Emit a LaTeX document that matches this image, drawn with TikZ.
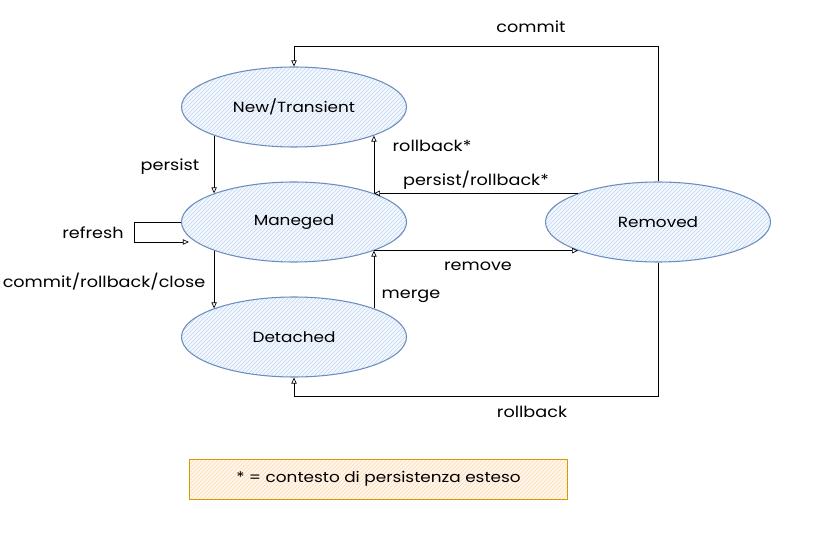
\documentclass[tikz,border=0pt]{standalone}
\usepackage{fontspec}
\setmainfont{Poppins}[FakeStretch=1.15]
\usetikzlibrary{shapes.geometric,arrows.meta,patterns}
\definecolor{bstroke}{HTML}{6C8EBF}
\definecolor{bfill}{HTML}{DAE8FC}
\definecolor{bhatch}{HTML}{C3D5F1}
\definecolor{ostroke}{HTML}{D79B00}
\definecolor{ofill}{HTML}{FFF6EC}
\definecolor{ohatch}{HTML}{FFD9B0}
\tikzset{
  state/.style={ellipse, draw=bstroke, line width=0.8pt, minimum width=168.75pt, minimum height=60pt, inner sep=0pt,
    preaction={fill=bfill!30}, pattern=north east lines, pattern color=bhatch, font=\fontsize{11}{13}\selectfont},
  legendbox/.style={rectangle, draw=ostroke, line width=0.6pt, minimum width=284pt, minimum height=30pt, inner sep=0pt,
    preaction={fill=ofill}, pattern=north east lines, pattern color=ohatch, font=\fontsize{11}{13}\selectfont},
  conn/.style={draw=black, line width=0.5pt, -{Triangle[open,length=4.5pt,width=4pt]}},
  lbl/.style={font=\fontsize{11.5}{13}\selectfont, inner sep=0pt}
}
\begin{document}
\begin{tikzpicture}[x=0.75pt,y=-0.75pt]
\useasboundingbox (0,0) rectangle (827,538);
\node[state] (new) at (294,107) {New/Transient};
\node[state] (man) at (294,222) {Maneged};
\node[state] (det) at (294,337) {Detached};
\node[state] (rem) at (658,222) {Removed};
\node[legendbox] (leg) at (378.5,479) {* = contesto di persistenza esteso};

\draw[conn] (new.south west) -- (man.north west);
\draw[conn] (man.north east) -- (new.south east);
\draw[conn] (rem.north west) -- (man.north east);
\draw[conn] (man.south east) -- (rem.south west);
\draw[conn] (man.south west) -- (det.north west);
\draw[conn] (det.north east) -- (man.south east);
\draw[conn] (man.west) -- ++(-47,0) -- ++(0,20) -- ++(55,0);
\draw[conn] (rem.north) -- ++(0,-135) -| (new.north);
\draw[conn] (rem.south) -- ++(0,134) -| (det.south);

\node[lbl] (lpersist) at (170,167) {persist};
\node[lbl] (lrb) at (432,146) {rollback*};
\node[lbl] (lprb) at (476,180) {persist/rollback*};
\node[lbl] (lremove) at (478,266) {remove};
\node[lbl] (lcrc) at (104,282) {commit/rollback/close};
\node[lbl] (lmerge) at (411,296) {merge};
\node[lbl] (lrefresh) at (93,233) {refresh};
\node[lbl] (lcommit) at (531,27) {commit};
\node[lbl] (lrollback) at (532,412) {rollback};
\end{tikzpicture}
\end{document}
